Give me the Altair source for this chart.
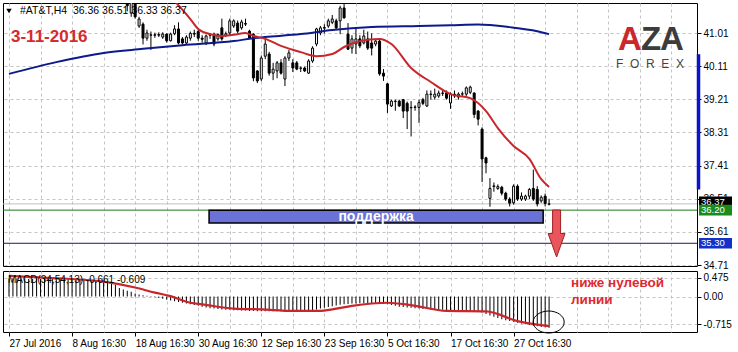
import altair as alt
import pandas as pd

# ---------------- data ----------------
FIRST_BAR = 30  # bars before this are above the visible price range
opens = [42.00, 41.55, 41.90, 41.20, 41.25, 40.87, 40.95, 40.96, 40.95, 40.90,
         40.98, 40.80, 40.99, 41.12, 40.85, 40.74, 40.87, 41.00, 41.05, 40.87,
         40.74, 40.95, 40.98, 40.85, 41.15, 40.95, 41.01, 41.20, 41.28, 41.15,
         41.25, 41.06, 40.98, 39.98, 39.76, 40.38, 40.44, 39.92, 39.98, 40.20,
         39.76, 40.33, 40.20, 40.20, 40.05, 40.06, 39.92, 40.25, 40.71, 41.01,
         41.14, 41.20, 41.30, 41.34, 41.34, 41.69, 40.98, 40.60, 40.71, 40.85,
         40.74, 40.85, 40.74, 40.71, 40.79, 39.92, 39.63, 39.03, 39.15, 39.16,
         39.20, 39.10, 38.98, 38.99, 38.99, 39.20, 39.03, 39.34, 39.27, 39.30,
         39.37, 39.38, 39.11, 39.35, 39.27, 39.35, 39.35, 39.40, 39.38, 38.89,
         38.40, 37.62, 36.52, 36.84, 36.79, 36.82, 36.66, 36.50, 36.40, 36.85,
         36.50, 36.50, 36.58, 36.79, 36.76, 36.45, 36.58, 36.36]
highs = [42.30, 42.10, 42.20, 41.45, 41.30, 41.10, 41.05, 41.02, 41.03, 41.03,
         41.00, 41.02, 41.22, 41.30, 40.90, 40.95, 41.05, 41.10, 41.10, 40.95,
         40.97, 41.00, 41.02, 41.00, 41.40, 41.05, 41.40, 41.38, 41.35, 41.37,
         41.40, 41.10, 41.00, 40.00, 40.40, 40.85, 40.50, 40.20, 40.25, 40.30,
         40.38, 40.55, 40.30, 40.25, 40.10, 40.10, 40.30, 40.65, 41.15, 41.20,
         41.25, 41.40, 41.50, 41.40, 41.75, 41.90, 41.28, 40.95, 41.12, 40.95,
         41.10, 41.05, 41.00, 40.85, 40.85, 40.03, 39.65, 39.20, 39.20, 39.20,
         39.22, 39.15, 39.16, 39.05, 39.20, 39.25, 39.45, 39.45, 39.50, 39.45,
         39.45, 39.45, 39.40, 39.45, 39.40, 39.42, 39.56, 39.58, 39.40, 38.92,
         38.45, 37.65, 37.07, 36.95, 36.90, 36.86, 36.70, 36.55, 36.90, 36.90,
         36.68, 36.62, 36.80, 37.30, 36.85, 36.60, 36.65, 36.51]
lows = [41.60, 41.45, 41.40, 41.15, 40.70, 40.80, 40.55, 40.88, 40.90, 40.85,
        40.75, 40.78, 40.95, 40.70, 40.70, 40.70, 40.80, 40.90, 40.80, 40.75,
        40.68, 40.85, 40.65, 40.80, 40.80, 40.90, 40.95, 41.15, 41.00, 41.10,
        41.20, 40.85, 39.70, 39.65, 39.70, 40.30, 39.85, 39.73, 39.78, 39.88,
        39.57, 40.25, 39.95, 40.00, 39.95, 39.95, 39.90, 40.20, 40.65, 40.95,
        41.00, 41.15, 41.25, 41.10, 40.98, 41.40, 40.55, 40.45, 40.44, 40.60,
        40.70, 40.55, 40.40, 40.65, 39.85, 39.71, 38.84, 39.00, 38.90, 39.00,
        38.70, 38.40, 38.20, 38.90, 38.57, 39.05, 39.00, 39.20, 39.20, 39.25,
        39.30, 39.20, 38.95, 39.25, 39.20, 39.30, 39.30, 39.35, 38.70, 38.50,
        36.96, 37.20, 36.29, 36.70, 36.75, 36.60, 36.45, 36.30, 36.35, 36.45,
        36.45, 36.45, 36.50, 36.45, 36.30, 36.40, 36.30, 36.33]
closes = [41.75, 41.90, 41.45, 41.39, 40.87, 41.01, 40.96, 40.95, 40.97, 40.98,
          40.80, 40.98, 41.12, 40.74, 40.74, 40.90, 41.00, 40.98, 40.87, 40.84,
          40.93, 40.98, 40.71, 40.97, 40.85, 40.99, 41.34, 41.34, 41.06, 41.31,
          41.27, 40.87, 39.79, 39.71, 40.33, 40.71, 39.92, 40.03, 40.20, 39.92,
          40.33, 40.47, 40.06, 40.03, 40.06, 39.98, 40.25, 40.60, 41.12, 41.15,
          41.16, 41.34, 41.39, 41.15, 41.69, 41.42, 40.57, 40.85, 40.85, 40.66,
          40.93, 40.60, 40.60, 40.79, 39.90, 39.84, 39.08, 39.16, 39.16, 39.03,
          38.89, 38.89, 38.99, 39.00, 39.12, 39.10, 39.35, 39.35, 39.35, 39.38,
          39.38, 39.24, 39.35, 39.30, 39.35, 39.36, 39.52, 39.54, 38.80, 38.67,
          37.59, 37.48, 36.79, 36.86, 36.84, 36.66, 36.50, 36.39, 36.85, 36.50,
          36.58, 36.58, 36.76, 36.50, 36.37, 36.55, 36.38, 36.37]

ma_slow_bars = [0, 12, 24, 34, 44, 57, 62, 74, 82, 92, 104, 112, 119, 127, 134, 137]
ma_slow_vals = [39.90, 40.22, 40.47, 40.58, 40.68, 40.79, 40.87, 40.98, 41.09, 41.17,
                41.20, 41.22, 41.24, 41.17, 41.06, 40.98]

ma_fast_bars = [42, 46, 48, 51, 54, 57, 60, 62, 65, 69, 74, 78, 82, 85, 89, 94, 97,
                102, 107, 112, 117, 121, 124, 128, 132, 135, 137]
ma_fast_vals = [41.88, 41.39, 41.12, 40.98, 40.93, 40.96, 41.01, 40.93, 40.85, 40.66,
                40.49, 40.38, 40.44, 40.63, 40.79, 40.85, 40.71, 40.06, 39.68, 39.35,
                39.24, 38.89, 38.43, 37.94, 37.59, 37.04, 36.83]

macd_hist = [0.46, 0.46, 0.46, 0.46, 0.46, 0.45, 0.45, 0.45, 0.45, 0.45,
             0.45, 0.45, 0.44, 0.44, 0.44, 0.44, 0.44, 0.43, 0.43, 0.43,
             0.43, 0.42, 0.42, 0.42, 0.41, 0.40, 0.38, 0.30, 0.22, 0.18,
             0.15, 0.12, 0.08, 0.05, 0.03, 0.02, 0.01, -0.02, -0.04, -0.06,
             -0.08, -0.10, -0.12, -0.14, -0.16, -0.18, -0.20, -0.22, -0.24, -0.26,
             -0.28, -0.30, -0.31, -0.32, -0.33, -0.34, -0.34, -0.35, -0.35, -0.36,
             -0.36, -0.37, -0.37, -0.38, -0.38, -0.38, -0.38, -0.38, -0.38, -0.38,
             -0.38, -0.38, -0.38, -0.38, -0.37, -0.37, -0.36, -0.35, -0.33, -0.31,
             -0.29, -0.27, -0.25, -0.23, -0.21, -0.20, -0.19, -0.18, -0.18, -0.17,
             -0.17, -0.17, -0.17, -0.17, -0.18, -0.19, -0.20, -0.22, -0.24, -0.26,
             -0.27, -0.28, -0.29, -0.30, -0.31, -0.32, -0.32, -0.33, -0.33, -0.34,
             -0.34, -0.35, -0.35, -0.36, -0.36, -0.36, -0.36, -0.36, -0.37, -0.38,
             -0.41, -0.45, -0.49, -0.52, -0.55, -0.58, -0.61, -0.63, -0.65, -0.67,
             -0.69, -0.71, -0.73, -0.75, -0.76, -0.78, -0.79, -0.80]
sig_bars = [0, 10, 24, 32, 37, 41, 46, 49, 57, 64, 72, 79, 82, 87, 92, 96, 102, 111,
            121, 129, 137]
sig_vals = [0.53, 0.48, 0.38, 0.23, 0.10, 0.01, -0.16, -0.20, -0.31, -0.33, -0.37,
            -0.37, -0.33, -0.24, -0.18, -0.16, -0.22, -0.37, -0.38, -0.63, -0.76]
macd_main_last, macd_signal_last = -0.661, -0.609

price_ticks = [34.71, 35.61, 36.51, 37.41, 38.31, 39.21, 40.11, 41.01]
macd_ticks = [0.475, 0.0, -0.715]
macd_tick_labels = ["0.475", "0.00", "-0.715"]
date_bars = [0, 16, 32, 48, 64, 80, 96, 112, 128]
date_labels = ["27 Jul 2016", "8 Aug 16:30", "18 Aug 16:30", "30 Aug 16:30",
               "12 Sep 16:30", "23 Sep 16:30", "5 Oct 16:30", "17 Oct 16:30",
               "27 Oct 16:30"]

bid_price = closes[-1]
support_level = 36.20
target_level = 35.30
zone_bars = [50.75, 135.5]
zone_prices = [36.20, 35.85]

# ---------------- tables ----------------
candles = pd.DataFrame({"i": list(range(FIRST_BAR, FIRST_BAR + len(opens))),
                        "open": opens, "high": highs, "low": lows, "close": closes})
candles["top"] = candles[["open", "close"]].max(axis=1)
candles["bot"] = candles[["open", "close"]].min(axis=1)
slow = pd.DataFrame({"i": ma_slow_bars, "v": ma_slow_vals})
fast = pd.DataFrame({"i": ma_fast_bars, "v": ma_fast_vals})
hist = pd.DataFrame({"i": list(range(len(macd_hist))), "h": macd_hist})
sig = pd.DataFrame({"i": sig_bars, "v": sig_vals})

# ---------------- scales / axes ----------------
W, H1, H2 = 694, 263, 61
GRID = "#c4c4c4"
grid_vals = list(range(0, 169, 8))
x_scale = alt.Scale(domain=[-0.25, 173.25], nice=False, zero=False)
p_scale = alt.Scale(domain=[34.683, 41.825], nice=False, zero=False)
m_scale = alt.Scale(domain=[-0.910, 0.654], nice=False, zero=False)

top_x_axis = alt.Axis(values=grid_vals, grid=True, gridDash=[3, 3], gridColor=GRID,
                      labels=False, ticks=False, domain=False, title=None, zindex=0)
p_axis = alt.Axis(orient="right", values=price_ticks, format=".2f", grid=True,
                  gridDash=[3, 3], gridColor=GRID, tickSize=4, tickColor="black",
                  labelPadding=2, domain=False, title=None, zindex=0)
date_expr = " : ".join(f"datum.value == {b} ? '{l}'" for b, l in zip(date_bars, date_labels)) + " : ''"
bot_x_axis = alt.Axis(values=grid_vals, grid=True, gridDash=[3, 3], gridColor=GRID,
                      labelExpr=date_expr, labelAlign="left", labelFlush=False,
                      labelOverlap=False, labelPadding=2, tickSize=4, tickColor="black",
                      tickOpacity={"condition": {"test": "datum.value % 16 == 0 && datum.value <= 128",
                                                 "value": 1}, "value": 0},
                      domain=False, title=None, zindex=0)
macd_expr = " : ".join(f"datum.value == {v} ? '{l}'" for v, l in zip(macd_ticks, macd_tick_labels)) + " : ''"
m_axis = alt.Axis(orient="right", values=macd_ticks, labelExpr=macd_expr, grid=True,
                  gridDash=[3, 3], gridColor=GRID, tickSize=4, tickColor="black",
                  labelPadding=2, domain=False, title=None, zindex=0)

X = lambda f: alt.X(f, type="quantitative", scale=x_scale, axis=top_x_axis)
P = lambda f: alt.Y(f, type="quantitative", scale=p_scale, axis=p_axis)
XB = lambda f: alt.X(f, type="quantitative", scale=x_scale, axis=bot_x_axis)
M = lambda f: alt.Y(f, type="quantitative", scale=m_scale, axis=m_axis)

# ---------------- main panel ----------------
levels = pd.DataFrame({"p": [bid_price, support_level, target_level],
                       "c": ["#c0c0c0", "#1d7a1d", "#1a1a6a"]})
level_rules = alt.Chart(levels).mark_rule(strokeWidth=1).encode(
    y=P("p"), color=alt.Color("c:N", scale=None))

wicks = alt.Chart(candles).mark_rule(color="black", strokeWidth=1, clip=True).encode(
    x=X("i"), y=P("low"), y2="high")
bodies = alt.Chart(candles).mark_bar(size=2, stroke="black", strokeWidth=1, clip=True).encode(
    x=X("i"), y=P("bot"), y2="top",
    fill=alt.condition("datum.close >= datum.open", alt.value("white"), alt.value("black")))

slow_line = alt.Chart(slow).mark_line(color="#0c1a8a", strokeWidth=2, clip=True,
                                      interpolate="monotone").encode(x=X("i"), y=P("v"))
fast_line = alt.Chart(fast).mark_line(color="#c8262b", strokeWidth=2, clip=True,
                                      interpolate="monotone").encode(x=X("i"), y=P("v"))

zone = pd.DataFrame({"x0": [zone_bars[0]], "x1": [zone_bars[1]],
                     "p0": [zone_prices[0]], "p1": [zone_prices[1]], "t": ["поддержка"]})
zone_rect = alt.Chart(zone).mark_rect(fill="#6a72d8", stroke="black", strokeWidth=1.5).encode(
    x=X("x0"), x2="x1", y=P("p0"), y2="p1")
zone_text = alt.Chart(zone).transform_calculate(
    xm="(datum.x0 + datum.x1) / 2", pm="(datum.p0 + datum.p1) / 2"
).mark_text(color="white", fontWeight="bold", fontSize=14, baseline="middle").encode(
    x=X("xm"), y=P("pm"), text="t:N")

arrow_path = "M-0.17,-1 L0.17,-1 L0.17,0 L0.36,0 L0,1 L-0.36,0 L-0.17,0 Z"
arrow = alt.Chart(pd.DataFrame({"i": [138.9], "p": [35.565]})).mark_point(
    shape=arrow_path, size=2209, filled=True, fill="#e8565b", stroke="#a02024",
    strokeWidth=1, opacity=1).encode(x=X("i"), y=P("p"))

blue_bar = alt.Chart(pd.DataFrame({"p0": [40.43], "p1": [36.76]})).mark_rule(
    color="#0a14c8", strokeWidth=3.5).encode(x=alt.value(695.5), y=P("p0"), y2="p1")

tags = pd.DataFrame({"p": [bid_price, support_level, target_level],
                     "c": ["#000000", "#1b8c1b", "#1330c8"],
                     "dy": [-2, 0, 0],
                     "t": [f"{bid_price:.2f}", f"{support_level:.2f}", f"{target_level:.2f}"]})
tag_path = "M-1,-0.32 L1,-0.32 L1,0.32 L-1,0.32 Z"
tag_layers = []
for _, r in tags.iterrows():
    one = pd.DataFrame([r])
    tag_layers.append(alt.Chart(one).mark_point(
        shape=tag_path, size=1089, filled=True, opacity=1, color=r["c"], yOffset=int(r["dy"])
    ).encode(x=alt.value(712.5), y=P("p")))
    tag_layers.append(alt.Chart(one).mark_text(
        align="left", baseline="middle", color="white", fontSize=9.5, dy=int(r["dy"])
    ).encode(x=alt.value(698), y=P("p"), text="t:N"))

def label(text, x, y, **kw):
    return alt.Chart(pd.DataFrame({"t": [text]})).mark_text(**kw).encode(
        text="t:N", x=alt.value(x), y=alt.value(y))

header = f"#AT&T,H4\u00a0\u00a0{opens[-1]:.2f} {highs[-1]:.2f} {lows[-1]:.2f} {closes[-1]:.2f}"
tri = alt.Chart(pd.DataFrame({"a": [0]})).mark_point(
    shape="triangle-down", size=30, filled=True, color="black", opacity=1).encode(
    x=alt.value(6), y=alt.value(8))
texts = [
    label(header, 17, 8, align="left", baseline="middle", fontSize=10.5, color="black"),
    label("3-11-2016", 8, 34, align="left", baseline="middle", fontSize=17,
          fontWeight="bold", color="#d42b2b"),
    label("A", 627, 47, align="center", baseline="alphabetic", fontSize=33,
          fontWeight="bold", color="#c9282d"),
    label("Z", 648, 47, align="center", baseline="alphabetic", fontSize=33,
          fontWeight="bold", color="#3c3c3c"),
    label("A", 669, 47, align="center", baseline="alphabetic", fontSize=33,
          fontWeight="bold", color="#3c3c3c"),
    label("F\u00a0\u00a0O\u00a0\u00a0R\u00a0\u00a0E\u00a0\u00a0X", 647, 61,
          align="center", baseline="middle", fontSize=12, color="#444444"),
]

top = alt.layer(level_rules, wicks, bodies, slow_line, fast_line, zone_rect, zone_text,
                arrow, blue_bar, *tag_layers, tri, *texts).properties(width=W, height=H1)

# ---------------- MACD panel ----------------
hist_bars = alt.Chart(hist).mark_bar(size=1, color="black").encode(x=XB("i"), y=M("h"))
sig_line = alt.Chart(sig).mark_line(color="#c8262b", strokeWidth=2.2,
                                    interpolate="monotone").encode(x=XB("i"), y=M("v"))
ellipse_path = "M-1,0 A1,0.71 0 1,1 1,0 A1,0.71 0 1,1 -1,0 Z"
ellipse = alt.Chart(pd.DataFrame({"i": [136.9], "v": [-0.654]})).mark_point(
    shape=ellipse_path, size=961, filled=False, stroke="black", strokeWidth=1,
    opacity=1).encode(x=XB("i"), y=M("v"))
macd_texts = [
    label(f"MACD(34,54,13) {macd_main_last:.3f} {macd_signal_last:.3f}", 5, 9,
          align="left", baseline="middle", fontSize=10, color="black"),
    label("ниже нулевой", 568, 12, align="left", baseline="middle", fontSize=13.5,
          fontWeight="bold", color="#e0282e"),
    label("линии", 568, 29, align="left", baseline="middle", fontSize=13.5,
          fontWeight="bold", color="#e0282e"),
]
bottom = alt.layer(hist_bars, sig_line, ellipse, *macd_texts).properties(width=W, height=H2)

chart = alt.vconcat(top, bottom, spacing=5, bounds="flush").properties(
    padding={"left": 2, "top": 2, "right": 0, "bottom": 0}, background="white"
).configure_view(stroke="black", strokeWidth=1).configure_axis(
    labelFont="Liberation Sans", labelFontSize=10, labelColor="black"
).configure_text(font="Liberation Sans")

chart.save("out.html", embed_options={"renderer": "svg", "actions": False})
